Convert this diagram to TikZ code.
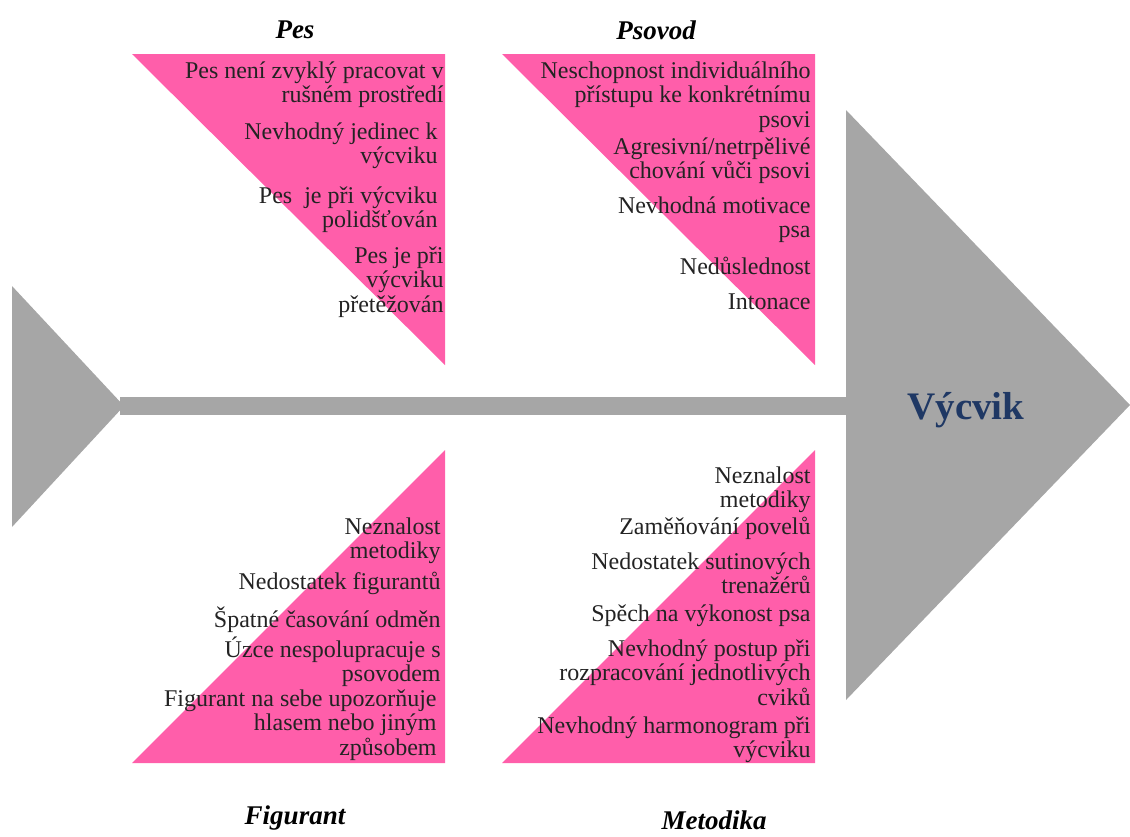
\documentclass[tikz,border=0pt]{standalone}
\usepackage{fontspec}
\setmainfont{Liberation Serif}
\usepackage{tikz}
\definecolor{fishpink}{RGB}{255,94,170}
\definecolor{fishgray}{RGB}{166,166,166}
\definecolor{headnavy}{RGB}{31,56,100}
\definecolor{causetext}{RGB}{35,35,35}

\begin{document}
\begin{tikzpicture}[x=0.5pt,y=-0.5pt,
  cause/.style={anchor=north east,align=right,inner sep=0pt,text=causetext,
    font=\fontsize{12}{12.3}\selectfont,execute at begin node=\strut},
  group/.style={inner sep=0pt,font=\fontsize{13.5}{16}\selectfont\bfseries\itshape}]
\useasboundingbox (0,0) rectangle (1130,836);
% fish: tail, spine, head
\fill[fishgray] (12,286) -- (124,406) -- (12,527) -- cycle;
\fill[fishgray] (846,110) -- (1130,405) -- (846,700) -- cycle;
\coordinate (tail) at (120,406);
\coordinate (neck) at (848,406);
\draw[fishgray,line width=9pt] (tail) -- (neck);
\node[text=headnavy,font=\fontsize{19.5}{22}\selectfont\bfseries] (head) at (966,410) {Výcvik};
% bones
\fill[fishpink] (132,54) -- (445,54) -- (445,365) -- cycle;
\fill[fishpink] (502,54) -- (815,54) -- (815,365) -- cycle;
\fill[fishpink] (445,450) -- (445,763) -- (132,763) -- cycle;
\fill[fishpink] (815,450) -- (815,763) -- (502,763) -- cycle;
% Pes
\node[group] (pes) at (295,30) {Pes};
\node[cause] (pes1) at (444,61) {Pes není zvyklý pracovat v\\rušném prostředí};
\node[cause] (pes2) at (438,122) {Nevhodný jedinec k\\výcviku};
\node[cause] (pes3) at (438,186) {Pes\ \ je při výcviku\\polidšťován};
\node[cause] (pes4) at (444,246) {Pes je při\\výcviku\\přetěžován};
% Psovod
\node[group] (psovod) at (656,30) {Psovod};
\node[cause] (psov1) at (811,61) {Neschopnost individuálního\\přístupu ke konkrétnímu\\psovi};
\node[cause] (psov2) at (811,137) {Agresivní/netrpělivé\\chování vůči psovi};
\node[cause] (psov3) at (811,196) {Nevhodná motivace\\psa};
\node[cause] (psov4) at (811,257) {Nedůslednost};
\node[cause] (psov5) at (811,292) {Intonace};
% Figurant
\node[group] (figurant) at (295,818) {Figurant};
\node[cause] (fig1) at (441,517) {Neznalost\\metodiky};
\node[cause] (fig2) at (441,572) {Nedostatek figurantů};
\node[cause] (fig3) at (441,606) {Špatné časování odměn};
\node[cause] (fig4) at (441,636) {Úzce nespolupracuje s\\psovodem};
\node[cause] (fig5) at (437,689) {Figurant na sebe upozorňuje\\hlasem nebo jiným\\způsobem};
% Metodika
\node[group] (metodika) at (714,820) {Metodika};
\node[cause] (met1) at (811,466) {Neznalost\\metodiky};
\node[cause] (met2) at (811,517) {Zaměňování povelů};
\node[cause] (met3) at (811,552) {Nedostatek sutinových\\trenažérů};
\node[cause] (met4) at (811,604) {Spěch na výkonost psa};
\node[cause] (met5) at (811,639) {Nevhodný postup při\\rozpracování jednotlivých\\cviků};
\node[cause] (met6) at (811,716) {Nevhodný harmonogram při\\výcviku};
\end{tikzpicture}
\end{document}
